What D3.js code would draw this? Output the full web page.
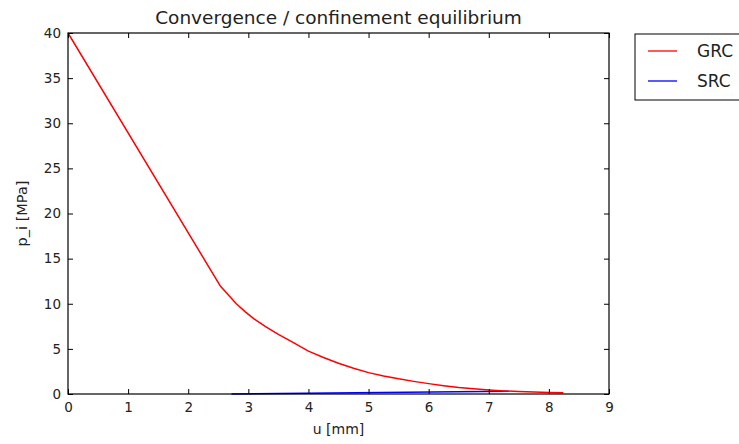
<!DOCTYPE html>
<html>
<head>
<meta charset="utf-8">
<script src="https://cdn.jsdelivr.net/npm/d3@7"></script>
<style>
  html, body { margin: 0; padding: 0; background: #fff; }
  svg { display: block; }
  text { font-family: "DejaVu Sans", sans-serif; fill: #222; }
</style>
</head>
<body>
<div id="chart"></div>
<script>
// Ground reaction curve (GRC): radial displacement u [mm] vs. internal pressure p_i [MPa]
const grcU = [0, 2.53, 2.65, 2.8, 2.95, 3.1, 3.3, 3.5, 3.75, 4.0, 4.25, 4.5, 4.75, 5.0, 5.25, 5.5, 5.75, 6.0, 6.25, 6.5, 6.75, 7.0, 7.25, 7.5, 7.75, 8.0, 8.24];
const grcP = [40, 12.0, 11.1, 10.0, 9.1, 8.3, 7.4, 6.6, 5.7, 4.75, 4.05, 3.4, 2.85, 2.37, 2.0, 1.68, 1.4, 1.15, 0.92, 0.72, 0.57, 0.44, 0.34, 0.27, 0.21, 0.18, 0.15];

// Support reaction curve (SRC)
const srcU = [2.72, 7.33];
const srcP = [0.0, 0.3];

const xTicks = [0, 1, 2, 3, 4, 5, 6, 7, 8, 9];
const yTicks = [0, 5, 10, 15, 20, 25, 30, 35, 40];

const seriesNames = ["GRC", "SRC"];
const seriesColors = ["#ff0000", "#0000ff"];

const W = 739, H = 444;
const plot = { left: 68, right: 609, top: 33, bottom: 394 };

const svg = d3.select("#chart").append("svg")
  .attr("width", W).attr("height", H);

const x = d3.scaleLinear().domain([0, 9]).range([plot.left, plot.right]);
const y = d3.scaleLinear().domain([0, 40]).range([plot.bottom, plot.top]);

// clip to plot area
svg.append("defs").append("clipPath").attr("id", "clip")
  .append("rect")
  .attr("x", plot.left).attr("y", plot.top - 2)
  .attr("width", plot.right - plot.left).attr("height", plot.bottom - plot.top + 4);

const line = d3.line().x(d => x(d[0])).y(d => y(d[1]));

const grc = grcU.map((u, i) => [u, grcP[i]]);
const src = srcU.map((u, i) => [u, srcP[i]]);

const g = svg.append("g").attr("clip-path", "url(#clip)");
g.append("path").datum(src)
  .attr("d", line).attr("fill", "none")
  .attr("stroke", seriesColors[1]).attr("stroke-width", 1.5);
g.append("path").datum(grc)
  .attr("d", line).attr("fill", "none")
  .attr("stroke", seriesColors[0]).attr("stroke-width", 1.5)
  .attr("stroke-linejoin", "round");

// axes with inward ticks on all four sides
const tickLen = 5;
const fontTick = 13.5;

const axB = svg.append("g").attr("transform", `translate(0,${plot.bottom})`)
  .call(d3.axisBottom(x).tickValues(xTicks).tickFormat(d3.format("d"))
    .tickSizeInner(-tickLen).tickSizeOuter(0).tickPadding(8));
const axT = svg.append("g").attr("transform", `translate(0,${plot.top})`)
  .call(d3.axisTop(x).tickValues(xTicks).tickFormat("")
    .tickSizeInner(-tickLen).tickSizeOuter(0));
const axL = svg.append("g").attr("transform", `translate(${plot.left},0)`)
  .call(d3.axisLeft(y).tickValues(yTicks).tickFormat(d3.format("d"))
    .tickSizeInner(-tickLen).tickSizeOuter(0).tickPadding(7));
const axR = svg.append("g").attr("transform", `translate(${plot.right},0)`)
  .call(d3.axisRight(y).tickValues(yTicks).tickFormat("")
    .tickSizeInner(-tickLen).tickSizeOuter(0));

[axB, axT, axL, axR].forEach(a => {
  a.select(".domain").remove();
  a.selectAll(".tick line").attr("stroke", "#000").attr("stroke-width", 1);
  a.selectAll(".tick text").attr("font-size", fontTick)
    .attr("font-family", "DejaVu Sans, sans-serif").attr("fill", "#222");
});

// frame
svg.append("rect")
  .attr("x", plot.left).attr("y", plot.top)
  .attr("width", plot.right - plot.left).attr("height", plot.bottom - plot.top)
  .attr("fill", "none").attr("stroke", "#000").attr("stroke-width", 1.2);

// title and axis labels
svg.append("text")
  .attr("x", (plot.left + plot.right) / 2).attr("y", 24)
  .attr("text-anchor", "middle").attr("font-size", 18.5)
  .text("Convergence / confinement equilibrium");

svg.append("text")
  .attr("x", (plot.left + plot.right) / 2).attr("y", 434)
  .attr("text-anchor", "middle").attr("font-size", 14)
  .text("u [mm]");

svg.append("text")
  .attr("transform", `translate(27,${(plot.top + plot.bottom) / 2}) rotate(-90)`)
  .attr("text-anchor", "middle").attr("font-size", 14.5)
  .text("p_i [MPa]");

// legend, placed outside the axes on the right
const leg = svg.append("g").attr("transform", "translate(635,34)");
leg.append("rect")
  .attr("x", 0).attr("y", 0).attr("width", 140).attr("height", 66)
  .attr("fill", "#fff").attr("stroke", "#000").attr("stroke-width", 1);
seriesNames.forEach((name, i) => {
  const cy = 17 + i * 30;
  leg.append("line")
    .attr("x1", 13).attr("x2", 42).attr("y1", cy).attr("y2", cy)
    .attr("stroke", seriesColors[i]).attr("stroke-width", 1.3);
  leg.append("text")
    .attr("x", 62).attr("y", cy + 6)
    .attr("font-size", 17)
    .text(name);
});
</script>
</body>
</html>
